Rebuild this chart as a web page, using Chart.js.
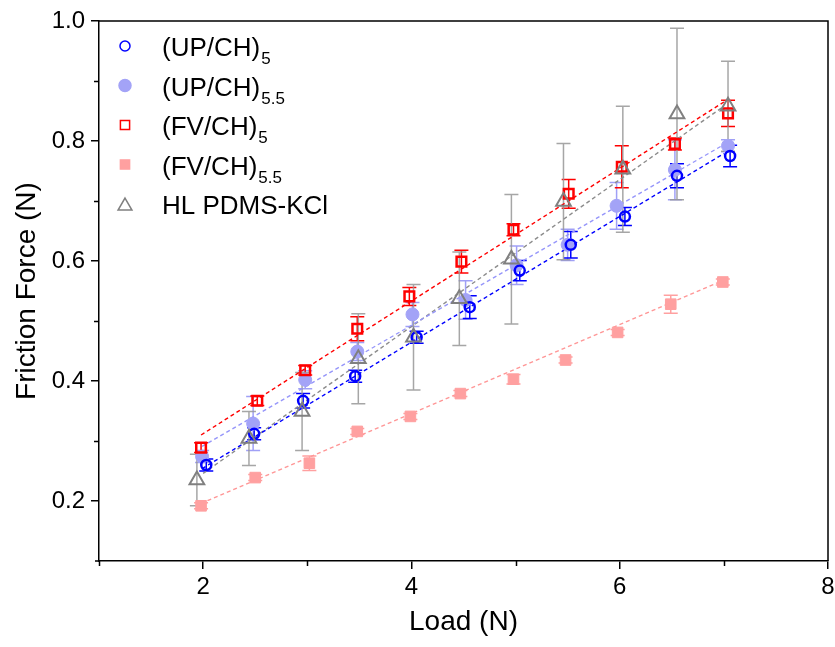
<!DOCTYPE html>
<html><head><meta charset="utf-8">
<script src="https://cdn.jsdelivr.net/npm/chart.js@4.4.1/dist/chart.umd.min.js"></script>
<style>html,body{margin:0;padding:0;background:#fff;}#wrap{width:835px;height:647px;}</style>
</head><body><div id="wrap"><canvas id="c" width="835" height="647"></canvas></div>
<script>
// ---- data ----
const legendNames = ['(UP/CH)', '(UP/CH)', '(FV/CH)', '(FV/CH)', 'HL PDMS-KCl'];
const legendSubs  = ['5', '5.5', '5', '5.5', ''];

const loadUP5  = [2.03, 2.49, 2.96, 3.46, 4.05, 4.56, 5.04, 5.53, 6.05, 6.55, 7.06];
const forceUP5 = [0.260, 0.312, 0.367, 0.408, 0.473, 0.523, 0.584, 0.627, 0.674, 0.742, 0.775];
const errUP5   = [0.010, 0.010, 0.012, 0.010, 0.010, 0.019, 0.017, 0.022, 0.015, 0.020, 0.018];

const loadUP55  = [1.99, 2.48, 2.98, 3.48, 4.01, 4.52, 5.01, 5.50, 5.97, 6.53, 7.04];
const forceUP55 = [0.274, 0.329, 0.402, 0.449, 0.511, 0.535, 0.593, 0.627, 0.692, 0.752, 0.792];
const errUP55   = [0.010, 0.045, 0.015, 0.015, 0.020, 0.032, 0.032, 0.026, 0.039, 0.050, 0.010];

const loadFV5  = [1.98, 2.52, 2.98, 3.48, 3.98, 4.48, 4.98, 5.51, 6.02, 6.53, 7.04];
const forceFV5 = [0.289, 0.367, 0.418, 0.487, 0.541, 0.599, 0.652, 0.712, 0.757, 0.795, 0.846];
const errFV5   = [0.008, 0.008, 0.008, 0.020, 0.015, 0.019, 0.010, 0.024, 0.035, 0.010, 0.022];

const loadFV55  = [1.98, 2.50, 3.02, 3.48, 3.99, 4.47, 4.98, 5.48, 5.98, 6.49, 6.99];
const forceFV55 = [0.192, 0.239, 0.263, 0.316, 0.341, 0.379, 0.403, 0.435, 0.481, 0.528, 0.565];
const errFV55   = [0.005, 0.005, 0.012, 0.005, 0.005, 0.005, 0.008, 0.005, 0.005, 0.015, 0.005];

const loadHL  = [1.94, 2.44, 2.95, 3.49, 4.02, 4.46, 4.96, 5.46, 6.03, 6.55, 7.04];
const forceHL = [0.235, 0.304, 0.349, 0.437, 0.473, 0.537, 0.603, 0.699, 0.753, 0.845, 0.858];
const errHL   = [0.043, 0.045, 0.065, 0.075, 0.088, 0.078, 0.108, 0.097, 0.105, 0.143, 0.075];

// dashed linear-fit lines (end points)
const fitLoadUP5  = [1.99, 7.00]; const fitForceUP5  = [0.254, 0.779];
const fitLoadUP55 = [1.99, 7.02]; const fitForceUP55 = [0.291, 0.796];
const fitLoadFV5  = [1.98, 7.00]; const fitForceFV5  = [0.310, 0.865];
const fitLoadFV55 = [1.98, 6.97]; const fitForceFV55 = [0.196, 0.566];
const fitLoadHL   = [2.00, 7.00]; const fitForceHL   = [0.246, 0.858];

const xMajorTicks = [2, 4, 6, 8];
const xMinorTicks = [1, 3, 5, 7];
const yMajorTicks = [0.2, 0.4, 0.6, 0.8, 1.0];
const yMinorTicks = [0.3, 0.5, 0.7, 0.9];

// ---- styles ----
const BLUE = 'rgb(0,0,255)', LBLUE = 'rgb(163,163,247)', RED = 'rgb(255,0,0)', PINK = 'rgb(255,160,160)', GRAY = 'rgb(128,128,128)';
const FONT = "'Liberation Sans', Arial, sans-serif";

const pts = (xs, ys) => xs.map((x, i) => ({x: x, y: ys[i]}));

const series = [
  {load: loadFV55, force: forceFV55, err: errFV55, color: PINK, errColor: 'rgba(255,150,150,0.9)', style: 'rect', radius: 7.5, fill: PINK, bw: 1},
  {load: loadUP55, force: forceUP55, err: errUP55, color: LBLUE, errColor: 'rgba(150,150,245,0.9)', style: 'circle', radius: 6.5, fill: LBLUE, bw: 1},
  {load: loadUP5,  force: forceUP5,  err: errUP5,  color: BLUE, errColor: BLUE, style: 'circle', radius: 5, fill: 'rgba(0,0,0,0)', bw: 2.5},
  {load: loadFV5,  force: forceFV5,  err: errFV5,  color: RED, errColor: RED, style: 'rect', radius: 6.8, fill: 'rgba(0,0,0,0)', bw: 2.5},
  {load: loadHL,   force: forceHL,   err: errHL,   color: GRAY, errColor: 'rgba(150,150,150,0.85)', style: 'triangle', radius: 8.5, fill: 'rgba(0,0,0,0)', bw: 2}
];

const fits = [
  {x: fitLoadFV55, y: fitForceFV55, color: 'rgba(255,150,150,1)'},
  {x: fitLoadUP55, y: fitForceUP55, color: 'rgba(150,150,250,1)'},
  {x: fitLoadUP5,  y: fitForceUP5,  color: BLUE},
  {x: fitLoadFV5,  y: fitForceFV5,  color: RED},
  {x: fitLoadHL,   y: fitForceHL,   color: 'rgb(140,140,140)'}
];

const datasets = [];
fits.forEach(f => datasets.push({
  data: pts(f.x, f.y), showLine: true, borderColor: f.color, borderWidth: 1.4,
  borderDash: [4, 3], pointRadius: 0, fill: false, order: 10
}));
series.forEach((s, i) => datasets.push({
  data: pts(s.load, s.force), showLine: false, pointStyle: s.style, pointRadius: s.radius,
  pointBackgroundColor: s.fill, pointBorderColor: s.color, pointBorderWidth: s.bw,
  order: 5 - i
}));

const isX = (arr, v) => arr.some(a => Math.abs(a - v) < 1e-6);

const extras = {
  id: 'extras',
  beforeDatasetsDraw(chart) {
    const ctx = chart.ctx, xs = chart.scales.x, ys = chart.scales.y;
    ctx.save();
    series.forEach(s => {
      ctx.strokeStyle = s.errColor; ctx.lineWidth = 1.5;
      s.load.forEach((l, i) => {
        const px = xs.getPixelForValue(l);
        const top = ys.getPixelForValue(s.force[i] + s.err[i]);
        const bot = ys.getPixelForValue(s.force[i] - s.err[i]);
        ctx.beginPath();
        ctx.moveTo(px, top); ctx.lineTo(px, bot);
        ctx.moveTo(px - 7, top); ctx.lineTo(px + 7, top);
        ctx.moveTo(px - 7, bot); ctx.lineTo(px + 7, bot);
        ctx.stroke();
      });
    });
    ctx.restore();
  },
  afterDraw(chart) {
    const ctx = chart.ctx, a = chart.chartArea, xs = chart.scales.x, ys = chart.scales.y;
    ctx.save();
    // frame top & right
    ctx.strokeStyle = '#000'; ctx.lineWidth = 1.5;
    ctx.beginPath();
    ctx.moveTo(a.left, a.top); ctx.lineTo(a.right, a.top); ctx.lineTo(a.right, a.bottom);
    ctx.moveTo(a.left - 4, a.bottom); ctx.lineTo(a.left, a.bottom);
    ctx.stroke();
    // minor ticks
    ctx.beginPath();
    xMinorTicks.forEach(v => { const p = Math.round(xs.getPixelForValue(v)) + 0.5; ctx.moveTo(p, a.bottom); ctx.lineTo(p, a.bottom + 5); });
    yMinorTicks.forEach(v => { const p = Math.round(ys.getPixelForValue(v)) + 0.5; ctx.moveTo(a.left, p); ctx.lineTo(a.left - 5, p); });
    ctx.stroke();
    // legend
    const ord = [2, 1, 3, 0, 4]; // series index for legend rows
    const rowY0 = a.top + 25, rowH = 39.5;
    const mx = a.left + 26, tx = a.left + 63;
    ord.forEach((si, r) => {
      const s = series[si];
      const y = rowY0 + r * rowH;
      ctx.fillStyle = s.fill; ctx.strokeStyle = s.color;
      let rad = s.radius;
      if (s.style === 'rect') rad = 6.5;
      if (s.style === 'circle') rad = s.fill === LBLUE ? 6 : 5;
      if (s.style === 'triangle') rad = 8;
      Chart.helpers.drawPoint(ctx, {pointStyle: s.style, radius: rad, borderWidth: s.bw, rotation: 0}, mx, y + (s.style === 'triangle' ? 2 : 0));
      ctx.fillStyle = '#000';
      ctx.textBaseline = 'alphabetic';
      ctx.font = '26px ' + FONT;
      ctx.fillText(legendNames[r], tx, y + 10);
      if (legendSubs[r]) {
        const w = ctx.measureText(legendNames[r]).width;
        ctx.font = '17px ' + FONT;
        ctx.fillText(legendSubs[r], tx + w + 1, y + 18);
      }
    });
    ctx.restore();
  }
};

new Chart(document.getElementById('c'), {
  type: 'scatter',
  data: {datasets: datasets},
  options: {
    responsive: false, animation: false, devicePixelRatio: 1,
    layout: {autoPadding: false, padding: {top: 21, right: 7, left: 0, bottom: 0}},
    plugins: {legend: {display: false}, tooltip: {enabled: false}},
    scales: {
      x: {
        type: 'linear', min: 1, max: 8,
        afterFit: s => { s.height = 86; s.paddingRight = 0; s.paddingLeft = 0; },
        ticks: {stepSize: 1, autoSkip: false, maxRotation: 0, color: '#000', padding: 4,
          font: {family: FONT, size: 24},
          callback: v => isX(xMajorTicks, v) ? String(v) : ''},
        grid: {drawOnChartArea: false, drawTicks: true, tickLength: 8, lineWidth: 1.5,
          color: c => (c.tick && isX(xMajorTicks, c.tick.value)) ? '#000' : 'rgba(0,0,0,0)'},
        border: {display: true, color: '#000', width: 1.5},
        title: {display: true, text: 'Load (N)', color: '#000', font: {family: FONT, size: 28}, padding: {top: 0, bottom: 8}}
      },
      y: {
        type: 'linear', min: 0.1, max: 1.0,
        afterFit: s => { s.width = 99; },
        ticks: {stepSize: 0.1, autoSkip: false, color: '#000', padding: 6,
          font: {family: FONT, size: 24},
          callback: v => isX(yMajorTicks, v) ? v.toFixed(1) : ''},
        grid: {drawOnChartArea: false, drawTicks: true, tickLength: 8, lineWidth: 1.5,
          color: c => (c.tick && isX(yMajorTicks, c.tick.value)) ? '#000' : 'rgba(0,0,0,0)'},
        border: {display: true, color: '#000', width: 1.5},
        title: {display: true, text: 'Friction Force (N)', color: '#000', font: {family: FONT, size: 28}, padding: {top: 10, bottom: 0}}
      }
    }
  },
  plugins: [extras]
});
</script>
</body></html>
